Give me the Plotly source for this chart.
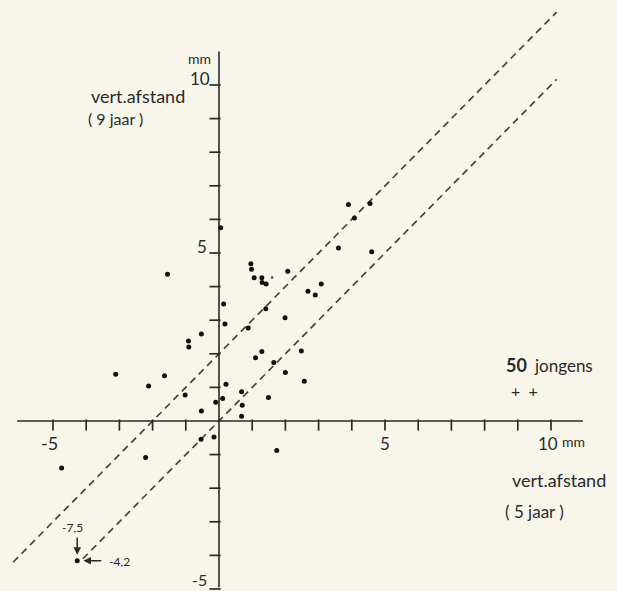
import plotly.graph_objects as go

# Data: vertical distance at 5 years (x) vs at 9 years (y), in mm
x_5jaar = [-1.55, 0.14, 0.18, -0.53, -0.92, -0.91, -3.11, -1.64, -2.12, -1.02,
           0.21, 0.11, -0.10, -0.53, 0.05, 0.96, 0.98, 1.06, 1.29, 1.30,
           1.42, 2.07, 2.68, 2.90, 3.08, 1.41, 1.99, 0.88, 1.29, 1.10,
           1.65, 2.48, 2.00, 2.57, 0.68, 1.49, 0.70, 0.68, 3.90, 4.55,
           4.08, 3.60, 4.60, -0.54, -0.15, -2.21, -4.74, 1.74, -4.27]
y_9jaar = [4.37, 3.48, 2.89, 2.59, 2.38, 2.20, 1.39, 1.35, 1.04, 0.77,
           1.09, 0.67, 0.56, 0.30, 5.75, 4.68, 4.52, 4.26, 4.26, 4.12,
           4.08, 4.46, 3.86, 3.75, 4.08, 3.34, 3.07, 2.77, 2.07, 1.88,
           1.74, 2.08, 1.44, 1.18, 0.87, 0.70, 0.47, 0.14, 6.44, 6.47,
           6.04, 5.15, 5.04, -0.54, -0.48, -1.09, -1.40, -0.88, -4.16]
x_faint = [1.60]
y_faint = [4.27]

# Reference lines y = x and y = x + 2
line_offsets = [0, 2]
line_x_start = [-4.1, -6.2]
line_x_end = [10.17, 10.17]

x_ticks = [-5, -4, -3, -2, -1, 1, 2, 3, 4, 5, 6, 7, 8, 9, 10]
y_ticks = [-5, -4, -3, -2, -1, 1, 2, 3, 4, 5, 6, 7, 8, 9, 10]
x_axis_extent = [-6.08, 10.96]
y_axis_extent = [-4.95, 11.0]

x_range = [-6.596, 11.988]
y_range = [-5.06, 12.53]

FONT = "Lato"
INK = "#2a2a2a"
BG = "#f8f5ea"
TICK_HALF = 0.12

fig = go.Figure()

# dashed reference lines
for off, xs, xe in zip(line_offsets, line_x_start, line_x_end):
    fig.add_trace(go.Scatter(x=[xs, xe], y=[xs + off, xe + off], mode="lines",
                             line=dict(color="#444444", width=1.7, dash="7px,5px"),
                             hoverinfo="skip", showlegend=False))

# axes
fig.add_trace(go.Scatter(x=x_axis_extent, y=[0, 0], mode="lines",
                         line=dict(color=INK, width=1.6), hoverinfo="skip", showlegend=False))
fig.add_trace(go.Scatter(x=[0, 0], y=y_axis_extent, mode="lines",
                         line=dict(color=INK, width=1.6), hoverinfo="skip", showlegend=False))

# ticks drawn as line markers hanging off the axes
fig.add_trace(go.Scatter(x=x_ticks, y=[-TICK_HALF] * len(x_ticks), mode="markers",
                         marker=dict(symbol="line-ns", size=8, color=INK,
                                     line=dict(color=INK, width=1.7)),
                         hoverinfo="skip", showlegend=False))
fig.add_trace(go.Scatter(x=[-TICK_HALF] * len(y_ticks), y=y_ticks, mode="markers",
                         marker=dict(symbol="line-ew", size=8, color=INK,
                                     line=dict(color=INK, width=1.7)),
                         hoverinfo="skip", showlegend=False))

# points
fig.add_trace(go.Scatter(x=x_5jaar, y=y_9jaar, mode="markers",
                         marker=dict(color="#111111", size=5), showlegend=False))
fig.add_trace(go.Scatter(x=x_faint, y=y_faint, mode="markers",
                         marker=dict(color="#444444", size=2.5), showlegend=False))

def txt(x, y, s, size=15, xanchor="center", color=INK):
    fig.add_annotation(x=x, y=y, text=s, showarrow=False, xanchor=xanchor, yanchor="middle",
                       font=dict(family=FONT, size=size, color=color))

# tick labels
txt(-5.1, -0.66, "-5", 18)
txt(5.0, -0.68, "5", 17)
txt(9.55, -0.67, "10", 17, "left")
txt(10.28, -0.62, "mm", 14, "left")
txt(-0.22, 10.2, "10", 17, "right")
txt(-0.30, 5.18, "5", 17, "right")
txt(-0.3, -4.72, "-5", 16, "right")
txt(-0.6, 10.8, "mm", 14)

# axis titles
txt(-3.93, 9.68, "vert.afstand", 18, "left")
txt(-4.02, 9.0, "( 9 jaar )", 16, "left")
txt(10.23, -1.75, "vert.afstand", 18, "center")
txt(9.5, -2.68, "( 5 jaar )", 17, "center")

# sample note
txt(8.95, 1.66, "<b>50</b>", 18, "center")
txt(9.42, 1.64, "jongens", 17, "left")
txt(9.2, 0.9, "+  +", 16, "center")

# off-scale point annotations
txt(-4.4, -3.16, "-7,5", 12)
txt(-3.0, -4.17, "-4,2", 12)
fig.add_annotation(x=-4.27, y=-3.98, ax=-4.27, ay=-3.42, axref="x", ayref="y",
                   xref="x", yref="y", text="", showarrow=True, arrowhead=2,
                   arrowsize=1, arrowwidth=1.5, arrowcolor=INK)
fig.add_annotation(x=-4.08, y=-4.16, ax=-3.5, ay=-4.16, axref="x", ayref="y",
                   xref="x", yref="y", text="", showarrow=True, arrowhead=2,
                   arrowsize=1, arrowwidth=1.5, arrowcolor=INK)

fig.update_layout(
    width=617, height=591, autosize=False,
    margin=dict(l=0, r=0, t=0, b=0),
    paper_bgcolor=BG, plot_bgcolor=BG,
    xaxis=dict(range=x_range, visible=False, fixedrange=True),
    yaxis=dict(range=y_range, visible=False, fixedrange=True),
    showlegend=False,
)

fig.write_html("out.html")
